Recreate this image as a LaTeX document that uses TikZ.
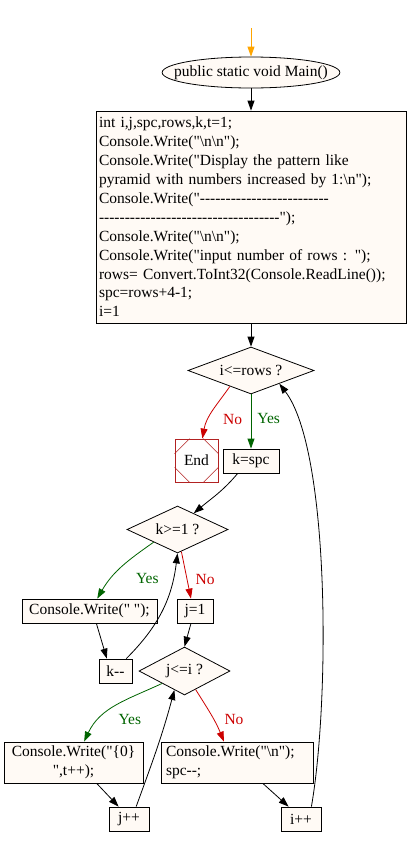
\documentclass[tikz,border=0pt]{standalone}
\usepackage{fontspec}
\setmainfont{Liberation Serif}[Ligatures=TeXOff]
\usetikzlibrary{shapes.geometric,arrows.meta}
\definecolor{boxfill}{RGB}{255,250,245}
\definecolor{nored}{RGB}{204,0,0}
\definecolor{yesgreen}{RGB}{0,100,0}
\definecolor{endred}{RGB}{178,34,34}
\definecolor{startorange}{RGB}{255,165,0}
\tikzset{
  stmt/.style={draw, rectangle, fill=boxfill, minimum height=24pt, inner sep=3pt},
  cond/.style={draw, diamond, aspect=2.7, fill=boxfill, inner sep=0pt, minimum height=47pt},
  noline/.style={nored, draw=nored},
  yesline/.style={yesgreen, draw=yesgreen},
  nolbl/.style={text=nored, inner sep=2pt},
  yeslbl/.style={text=yesgreen, inner sep=2pt}
}
\begin{document}
\begin{tikzpicture}[x=1pt, y=1pt, line width=0.8pt,
    >={Triangle[length=10pt,width=7pt]},
    every node/.style={font=\fontsize{15.5}{18.9}\selectfont}]
\useasboundingbox (0,0) rectangle (408,-846);
			\coordinate (start) at (251,-28);
			\node (main) at (251,-72.5) [draw, ellipse, fill=boxfill, inner xsep=-14pt, inner ysep=0pt, minimum width=177pt, minimum height=31pt] {public static void Main()};
			\node (init) at (251,-217) [stmt, text width=304pt, align=left, minimum height=212pt] {int i,j,spc,rows,k,t=1;\\
Console.Write("\textbackslash n\textbackslash n");\\
Console.Write("Display the pattern like\\
pyramid with numbers increased by 1:\textbackslash n");\\
Console.Write("-------------------------\\
-----------------------------------");\\
Console.Write("\textbackslash n\textbackslash n");\\
Console.Write("input number of rows : ");\\
rows= Convert.ToInt32(Console.ReadLine());\\
spc=rows+4-1;\\
i=1};
			\node (iloop) at (251,-370.5) [cond, minimum width=126pt] {i<=rows ?};
			\node (fin) at (196.5,-460.5) [draw=endred, rectangle, fill=white, minimum size=43pt, inner sep=0pt] {End};
			\node (kspc) at (251,-461) [stmt, minimum width=56pt] {k=spc};
			\node (kcheck) at (177.5,-529.5) [cond, minimum width=101pt] {k>=1 ?};
			\node (sp) at (89.5,-611) [stmt, minimum width=135pt] {Console.Write(" ");};
			\node (jone) at (195,-611) [stmt, minimum width=36pt] {j=1};
			\node (kdec) at (115.5,-671) [stmt, minimum width=33pt] {k--};
			\node (jcheck) at (184.5,-671) [cond, minimum width=91pt, minimum height=48pt] {j<=i ?};
			\node (cw0) at (73.5,-762.5) [stmt, minimum width=139pt, minimum height=41pt, align=center] {Console.Write("\{0\}\\",t++);};
			\node (cwn) at (237,-762.5) [stmt, minimum width=152pt, minimum height=41pt, text width=142pt, align=left] {Console.Write("\textbackslash n");\\spc--;};
			\node (jpp) at (129,-819) [stmt, minimum width=40pt] {j++};
			\node (ipp) at (301,-819) [stmt, minimum width=40pt] {i++};
			% corner cuts of the end box
			\draw[endred, line width=0.5pt]
			([xshift=15pt]fin.north west) -- ([yshift=-15pt]fin.north west)
			([xshift=-15pt]fin.north east) -- ([yshift=-15pt]fin.north east)
			([xshift=15pt]fin.south west) -- ([yshift=15pt]fin.south west)
			([xshift=-15pt]fin.south east) -- ([yshift=15pt]fin.south east);
			\draw 
			(start) edge[->, startorange] (main)
			(main) edge[->] (init)
			(init) edge[->] (iloop)
			(iloop.-143) edge[->, noline, out=-125, in=80] node[nolbl, right, xshift=8pt, yshift=-8pt] {No} (fin.75)
			(iloop) edge[->, yesline] node[yeslbl, right, xshift=4pt, yshift=3pt] {Yes} (kspc)
			(kspc.-137) edge[->, out=-130, in=40] (kcheck.45)
			(kcheck.-152) edge[->, yesline, out=-145, in=60] node[yeslbl, right, xshift=12pt, yshift=-12pt] {Yes} (sp.58)
			(kcheck.-80) edge[->, noline] node[nolbl, right, xshift=7pt, yshift=-4pt] {No} (jone.108)
			(sp.-61) edge[->] (kdec.125)
			(kdec.49) edge[->, out=45, in=-97] (kcheck.south)
			(jone.-108) edge[->] (jcheck.north)
			(jcheck.-151) edge[->, yesline, out=-155, in=65] node[yeslbl, right, yshift=-14pt] {Yes} (cw0.63)
			(jcheck.-59) edge[->, noline, out=-58, in=112] node[nolbl, right, xshift=11pt, yshift=-5pt] {No} (cwn.122)
			(cw0.-42) edge[->] (jpp.130)
			(cwn.-39) edge[->] (ipp.135)
			(jpp.60) edge[->, out=70, in=-105] (jcheck.-118)
			;
			\draw[->] (ipp.50) .. controls (330,-700) and (330,-450) .. (iloop.-25);
\end{tikzpicture}
\end{document}
